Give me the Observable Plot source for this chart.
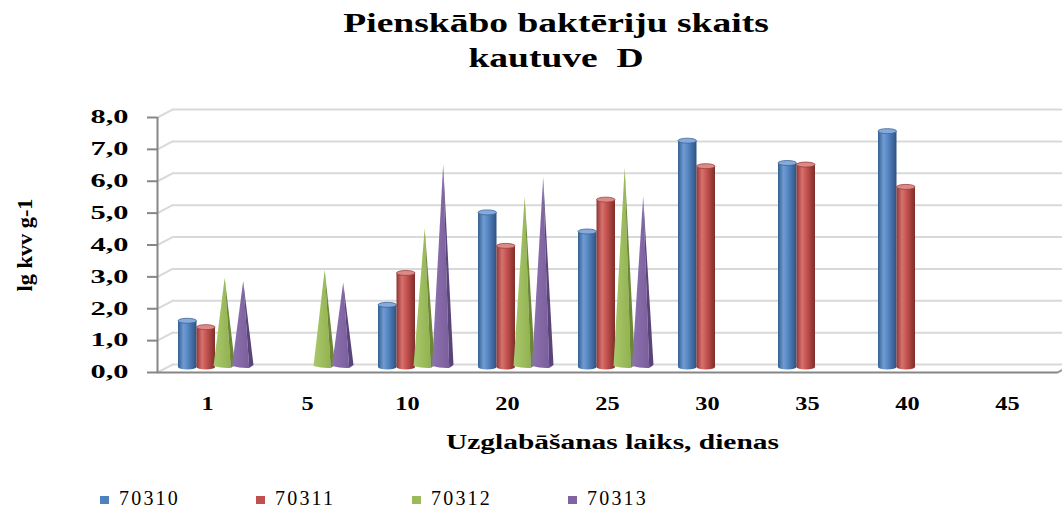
<!DOCTYPE html>
<html>
<head>
<meta charset="utf-8">
<script src="https://cdn.jsdelivr.net/npm/d3@7"></script>
<script src="https://cdn.jsdelivr.net/npm/@observablehq/plot@0.6"></script>
<style>
  body { margin: 0; background: #fff; }
  #wrap { position: relative; width: 1062px; height: 508px; overflow: hidden;
          font-family: "Liberation Serif", "Times New Roman", serif; color: #000; }
  .tline { position: absolute; left: 50px; width: 1012px; text-align: center; font-weight: bold;
           font-size: 27px; line-height: 27px; white-space: pre; }
  .tline span { display: inline-block; transform: scaleX(1.39); transform-origin: center; }
  #chart { position: absolute; left: 0; top: 80px; }
  .sw { position: absolute; top: 496px; width: 9px; height: 8px; }
  .lt { position: absolute; top: 489px; font-size: 20px; line-height: 18px; letter-spacing: 2.2px; white-space: nowrap; }
</style>
</head>
<body>
<div id="wrap">
  <div class="tline" style="top:10px"><span>Pienskābo baktēriju skaits</span></div>
  <div class="tline" style="top:45px"><span>kautuve  D</span></div>
  <div id="chart"></div>
</div>
<script>
// ---- data ----
const days = ["1", "5", "10", "20", "25", "30", "35", "40", "45"];
const seriesNames = ["70310", "70311", "70312", "70313"];
const s70310 = [1.45, null, 1.95, 4.85, 4.25, 7.1, 6.4, 7.4, null];
const s70311 = [1.25, null, 2.95, 3.8, 5.25, 6.3, 6.35, 5.65, null];
const s70312 = [2.8, 3.05, 4.35, 5.35, 6.25, null, null, null, null];
const s70313 = [2.7, 2.65, 6.35, 5.95, 5.35, null, null, null, null];
const yTicks = [0, 1, 2, 3, 4, 5, 6, 7, 8];
const colors = ["#4F81BD", "#C0504D", "#9BBB59", "#8064A2"];
const yTitle = "lg kvv g-1";
const xTitle = "Uzglabāšanas laiks, dienas";

// ---- layout ----
const W = 1062, H = 380;
const mL = 157, mR = 5, mT = 37, mB = 88;
const bw = (W - mL - mR) / days.length;
const slot = 18.5, lead = 13;
const series = [s70310, s70311, s70312, s70313];
const rows = vals => days.map((d, j) => ({day: d, value: vals[j]})).filter(r => r.value != null);
const lineShape = {draw(context, l) { context.moveTo(0, 0); context.lineTo(0, -l); }};

const barMarks = series.map((vals, i) => Plot.barY(rows(vals), {
  x: "day", y: "value", fill: colors[i],
  insetLeft: lead + slot * i, insetRight: bw - lead - slot * (i + 1),
  dx: 8, dy: -5, ariaDescription: "s" + i
}));

const chart = Plot.plot({
  width: W, height: H,
  marginLeft: mL, marginRight: mR, marginTop: mT, marginBottom: mB,
  style: {fontFamily: '"Liberation Serif", "Times New Roman", serif', background: "transparent", overflow: "visible", color: "#000"},
  x: {type: "band", domain: days, padding: 0},
  y: {domain: [0, 8]},
  marks: [
    Plot.ruleY(yTicks, {dx: 15, dy: -8, stroke: "#d9d9d9", strokeWidth: 2}),
    Plot.vector(yTicks, {y: d => d, frameAnchor: "left", anchor: "start", length: 17, rotate: 62, stroke: "#d9d9d9", strokeWidth: 2, shape: lineShape}),
    Plot.vector([0], {y: d => d, frameAnchor: "right", anchor: "start", length: 17, rotate: 62, stroke: "#9a9a9a", strokeWidth: 2, shape: lineShape}),
    Plot.ruleY([0], {stroke: "#868686", strokeWidth: 2}),
    Plot.ruleX([days[0]], {dx: -bw / 2, y1: 0, y2: 8, stroke: "#868686", strokeWidth: 2}),
    Plot.axisY(yTicks, {tickSize: 10, tickPadding: 19, tickFormat: d => d.toFixed(1).replace(".", ","),
      fontSize: 18, fontWeight: "bold", stroke: "#868686", strokeWidth: 2, label: null}),
    Plot.axisX({tickSize: 0, tickPadding: 24, fontSize: 19, fontWeight: "bold", label: null}),
    ...barMarks,
    Plot.text([yTitle], {text: d => d, frameAnchor: "left", textAnchor: "middle", lineAnchor: "middle",
      dx: -132, rotate: -90, fontSize: 20, fontWeight: "bold", ariaDescription: "ytitle"}),
    Plot.text([xTitle], {text: d => d, frameAnchor: "bottom", textAnchor: "middle", lineAnchor: "middle",
      dx: 5, dy: 70, fontSize: 20, fontWeight: "bold", ariaDescription: "xtitle"})
  ]
});
document.getElementById("chart").appendChild(chart);

// ---- styling: horizontally stretched text like the reference ----
const root = d3.select(chart);
function stretch(sel, L, anchor) {
  sel.each(function () {
    const len = typeof L === "function" ? L(this) : L;
    const x0 = +(this.getAttribute("x") || 0);
    const start = anchor === "end" ? x0 - len : anchor === "middle" ? x0 - len / 2 : x0;
    this.setAttribute("x", start);
    this.setAttribute("text-anchor", "start");
    this.setAttribute("textLength", len);
    this.setAttribute("lengthAdjust", "spacingAndGlyphs");
  });
}
stretch(root.selectAll('g[aria-label="y-axis tick label"] text'), 38, "end");
stretch(root.selectAll('g[aria-label="x-axis tick label"] text'), el => el.textContent.length * 0.5 * 19 * 1.28, "middle");
stretch(root.selectAll('g[aria-description="ytitle"] text'), 93, "middle");
stretch(root.selectAll('g[aria-description="xtitle"] text'), 333, "middle");

// ---- 3D-ish shading for cylinders and cones ----
const defs = root.insert("defs", ":first-child");
function grad(id, stops) {
  const g = defs.append("linearGradient").attr("id", id)
    .attr("x1", 0).attr("x2", 1).attr("y1", 0).attr("y2", 0);
  stops.forEach(([o, c]) => g.append("stop").attr("offset", o).attr("stop-color", c));
}
grad("cyl0", [[0, "#33608f"], [0.3, "#6f9bd3"], [0.55, "#5585c0"], [1, "#2d5282"]]);
grad("cyl1", [[0, "#8f3532"], [0.3, "#d8726f"], [0.55, "#c4524f"], [1, "#7f2d2a"]]);
grad("cone2", [[0, "#a9c86c"], [1, "#92b250"]]);
grad("cone3", [[0, "#8d72b0"], [1, "#7b5f9d"]]);
const topCol = ["#86aadb", "#dc8a87"];
const edgeCol = ["#3c6698", "#9a3d3a"];
const sideCol = ["", "", "#6c8834", "#5a4479"];

[0, 1].forEach(i => {
  root.selectAll(`g[aria-description="s${i}"] rect`).each(function () {
    const r = d3.select(this);
    const x = +r.attr("x"), y = +r.attr("y"), w = +r.attr("width"), h = +r.attr("height");
    const g = d3.select(this.parentNode);
    r.attr("fill", `url(#cyl${i})`);
    g.insert("ellipse", () => this).attr("cx", x + w / 2).attr("cy", y + h).attr("rx", w / 2).attr("ry", 2.5)
      .attr("fill", `url(#cyl${i})`);
    g.append("ellipse").attr("cx", x + w / 2).attr("cy", y).attr("rx", w / 2).attr("ry", 2.5)
      .attr("fill", topCol[i]).attr("stroke", edgeCol[i]).attr("stroke-width", 0.8);
  });
});
[2, 3].forEach(i => {
  root.selectAll(`g[aria-description="s${i}"] rect`).each(function () {
    const r = d3.select(this);
    const x0 = +r.attr("x"), y = +r.attr("y"), w0 = +r.attr("width"), h = +r.attr("height");
    const x = x0 - 1.5, w = w0 + 3;
    const g = d3.select(this.parentNode);
    const tx = x + 0.52 * w, sx = x + 0.8 * w, b = y + h;
    g.append("path").attr("d", `M${x},${b - 1}L${tx},${y}L${sx},${b + 1}Q${x + 0.4 * w},${b + 1.5} ${x},${b - 1}Z`)
      .attr("fill", `url(#cone${i})`);
    g.append("path").attr("d", `M${tx},${y}L${x + w},${b - 2}L${sx},${b + 1}Z`)
      .attr("fill", sideCol[i]);
    r.remove();
  });
});

// ---- legend ----
const wrap = document.getElementById("wrap");
seriesNames.forEach((name, i) => {
  const left = 100 + i * 156;
  const sw = document.createElement("div");
  sw.className = "sw";
  sw.style.left = left + "px";
  sw.style.background = colors[i];
  wrap.appendChild(sw);
  const lt = document.createElement("div");
  lt.className = "lt";
  lt.style.left = (left + 19) + "px";
  lt.textContent = name;
  wrap.appendChild(lt);
});
</script>
</body>
</html>
